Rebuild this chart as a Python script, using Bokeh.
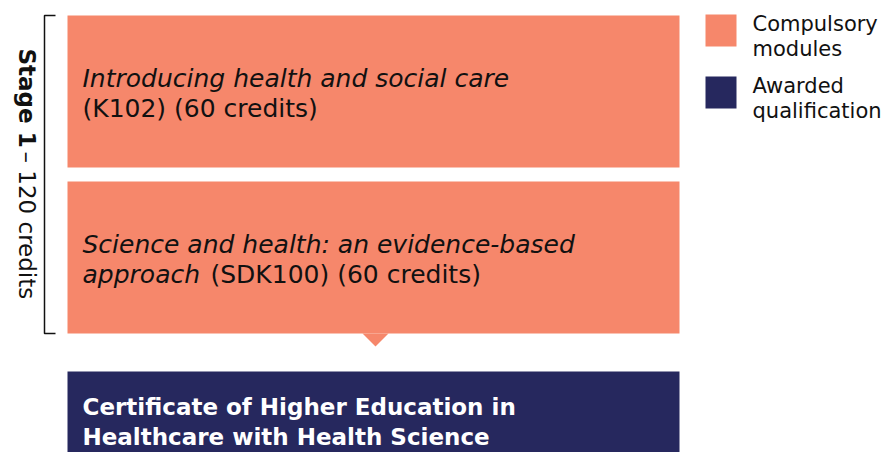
from bokeh.plotting import figure
from bokeh.models import Range1d
from bokeh.core.properties import value
from bokeh.embed import file_html
from bokeh.resources import INLINE
import math

# ---- data ----
module_titles_l1 = ["Introducing health and social care", "Science and health: an evidence-based"]
module_titles_l2 = ["", "approach"]
module_codes = ["K102", "SDK100"]
module_credits = [60, 60]
qualification_lines = ["Certificate of Higher Education in", "Healthcare with Health Science"]
stage_label = "Stage 1"
stage_credits = 120
legend_labels = [["Compulsory", "modules"], ["Awarded", "qualification"]]

SALMON = "#F6876B"
NAVY = "#26285E"
FONT = value("DejaVu Sans")
TXT = "#111111"
BODY_SIZE = "25px"

p = figure(width=888, height=452, output_backend="svg", toolbar_location=None,
           x_range=Range1d(0, 888), y_range=Range1d(452, 0), min_border=0)
p.axis.visible = False
p.grid.visible = False
p.outline_line_color = None
p.background_fill_color = "white"

# layout (pixel units in page coordinates)
bx0, bx1 = 67, 679
box_top = [15, 181]
box_h = 152
qual_top = 371

for i in range(len(module_codes)):
    t = box_top[i]
    p.quad(left=bx0, right=bx1, top=t, bottom=t + box_h, fill_color=SALMON, line_color=None)
    cy = t + box_h / 2
    p.text(x=[82], y=[cy - 13], text=[module_titles_l1[i]], text_font=FONT,
           text_font_style="italic", text_font_size=BODY_SIZE, text_baseline="middle", text_color=TXT)
    if module_titles_l2[i]:
        p.text(x=[82], y=[cy + 17], text=[module_titles_l2[i]], text_font=FONT,
               text_font_style="italic", text_font_size=BODY_SIZE, text_baseline="middle", text_color=TXT)
        p.text(x=[210], y=[cy + 17], text=[f"({module_codes[i]}) ({module_credits[i]} credits)"],
               text_font=FONT, text_font_size=BODY_SIZE, text_baseline="middle", text_color=TXT)
    else:
        p.text(x=[82], y=[cy + 17], text=[f"({module_codes[i]}) ({module_credits[i]} credits)"],
               text_font=FONT, text_font_size=BODY_SIZE, text_baseline="middle", text_color=TXT)

# pointer triangle
last_bottom = box_top[-1] + box_h
mid = (bx0 + bx1) / 2 + 2
p.patch(x=[mid - 13, mid + 13, mid], y=[last_bottom, last_bottom, last_bottom + 13],
        fill_color=SALMON, line_color=None)

# qualification box
p.quad(left=bx0, right=bx1, top=qual_top, bottom=qual_top + 120, fill_color=NAVY, line_color=None)
for j, line in enumerate(qualification_lines):
    p.text(x=[82], y=[406 + 30 * j], text=[line], text_font=FONT, text_font_style="bold",
           text_font_size="23px", text_baseline="middle", text_color="white")

# stage bracket
br_top, br_bot = box_top[0], last_bottom
p.line(x=[55, 44, 44, 55], y=[br_top, br_top, br_bot, br_bot], line_color=TXT, line_width=1.5)
p.text(x=[26], y=[48], text=[stage_label], angle=-math.pi / 2, text_font=FONT,
       text_font_style="bold", text_font_size="23px", text_baseline="middle", text_align="left",
       text_color=TXT)
p.text(x=[26], y=[151], text=[f"\u2013 {stage_credits} credits"], angle=-math.pi / 2,
       text_font=FONT, text_font_size="23px", text_baseline="middle", text_align="left",
       text_color=TXT)

# legend
leg_colors = [SALMON, NAVY]
leg_top = [14, 76]
for k in range(len(legend_labels)):
    p.quad(left=705, right=736, top=leg_top[k], bottom=leg_top[k] + 32, fill_color=leg_colors[k], line_color=None)
    for m, s in enumerate(legend_labels[k]):
        p.text(x=[752], y=[leg_top[k] + 9 + 25 * m], text=[s], text_font=FONT,
               text_font_size="21px", text_baseline="middle", text_color=TXT)

open("out.html", "w").write(file_html(p, INLINE))
